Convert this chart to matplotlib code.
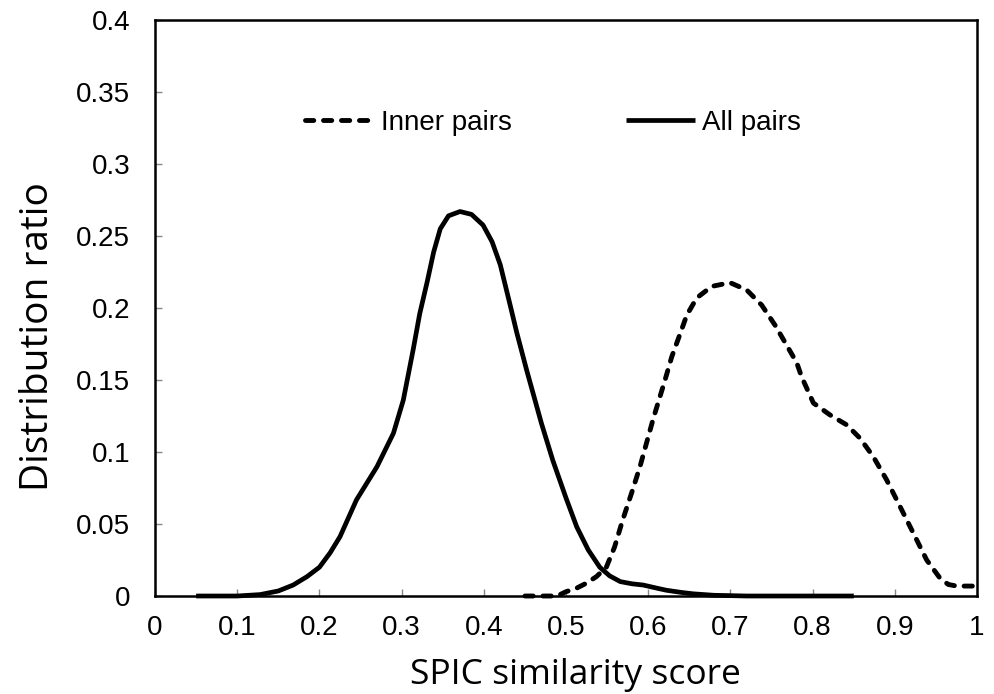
import matplotlib
matplotlib.use("Agg")
import matplotlib.pyplot as plt

# All pairs (solid)
all_x = [0.05, 0.10, 0.128, 0.15, 0.168, 0.185, 0.20, 0.213, 0.225, 0.245, 0.27, 0.29,
         0.302, 0.314, 0.322, 0.331, 0.339, 0.347, 0.357, 0.371, 0.385, 0.399, 0.410,
         0.420, 0.432, 0.44, 0.452, 0.47, 0.484, 0.50, 0.513, 0.527, 0.541, 0.553,
         0.566, 0.58, 0.594, 0.61, 0.622, 0.64, 0.655, 0.68, 0.72, 0.85]
all_y = [0.0, 0.0, 0.001, 0.0035, 0.0076, 0.0135, 0.020, 0.030, 0.0412, 0.0667, 0.0898, 0.113,
         0.136, 0.171, 0.196, 0.218, 0.239, 0.255, 0.264, 0.267, 0.265, 0.2576, 0.246,
         0.230, 0.202, 0.183, 0.157, 0.120, 0.094, 0.068, 0.048, 0.032, 0.020, 0.014,
         0.010, 0.0085, 0.0076, 0.0055, 0.004, 0.0025, 0.0015, 0.0005, 0.0, 0.0]

# Inner pairs (dashed)
inner_x = [0.45, 0.489, 0.50, 0.513, 0.525, 0.537, 0.549, 0.559, 0.569, 0.58, 0.590,
           0.606, 0.6204, 0.6285, 0.6387, 0.6468, 0.659, 0.6772, 0.6995, 0.7198, 0.738,
           0.7543, 0.7685, 0.7806, 0.7867, 0.8009, 0.8212, 0.8415, 0.8577, 0.8738,
           0.89, 0.9063, 0.9225, 0.9387, 0.955, 0.965, 0.9752, 1.0]
inner_y = [0.0, 0.0, 0.003, 0.0055, 0.009, 0.0135, 0.020, 0.034, 0.053, 0.072, 0.090,
           0.123, 0.150, 0.166, 0.182, 0.195, 0.207, 0.215, 0.2176, 0.2125, 0.202,
           0.188, 0.174, 0.162, 0.152, 0.134, 0.1257, 0.1188, 0.1095, 0.0967,
           0.0806, 0.0621, 0.0436, 0.025, 0.0123, 0.008, 0.0069, 0.0069]

x_ticks = [0, 0.1, 0.2, 0.3, 0.4, 0.5, 0.6, 0.7, 0.8, 0.9, 1]
x_tick_labels = ["0", "0.1", "0.2", "0.3", "0.4", "0.5", "0.6", "0.7", "0.8", "0.9", "1"]
y_ticks = [0, 0.05, 0.1, 0.15, 0.2, 0.25, 0.3, 0.35, 0.4]
y_tick_labels = ["0", "0.05", "0.1", "0.15", "0.2", "0.25", "0.3", "0.35", "0.4"]

fig = plt.figure(figsize=(9.95, 6.94), dpi=100)
ax = fig.add_axes([0.1558, 0.1412, 0.982 - 0.1558, 0.9712 - 0.1412])

ax.plot(inner_x, inner_y, color="black", lw=3.5, linestyle=(0, (1.7, 2.0)),
        dash_capstyle="round", label="Inner pairs", clip_on=False)
ax.plot(all_x, all_y, color="black", lw=3.4, label="All pairs",
        solid_joinstyle="round", solid_capstyle="butt", clip_on=False)

ax.set_xlim(0, 1)
ax.set_ylim(0, 0.4)
ax.set_xticks(x_ticks)
ax.set_xticklabels(x_tick_labels)
ax.set_yticks(y_ticks)
ax.set_yticklabels(y_tick_labels)

tick_font = "Liberation Sans"
for lab in ax.get_xticklabels() + ax.get_yticklabels():
    lab.set_fontfamily(tick_font)
    lab.set_fontsize(20)

ax.tick_params(axis="both", direction="in", length=5, width=1, color="#888888")
ax.tick_params(axis="y", pad=18)
ax.tick_params(axis="x", pad=14)

for sp in ax.spines.values():
    sp.set_linewidth(1.8)
    sp.set_color("black")

ax.set_xlabel("SPIC similarity score", fontfamily="Open Sans", fontsize=25.5,
              va="baseline")
ax.xaxis.set_label_coords(0.512, -0.152)
ax.set_ylabel("Distribution ratio", fontfamily="Open Sans", fontsize=28)
ax.yaxis.set_label_coords(-0.119, 0.45)

leg = ax.legend(loc="center left", bbox_to_anchor=(0.1825, 0.821), ncol=2, frameon=False,
                prop={"family": tick_font, "size": 20}, handlelength=2.5,
                handletextpad=0.24, columnspacing=4.1, borderpad=0, borderaxespad=0)

fig.savefig("out.png", dpi=100)
